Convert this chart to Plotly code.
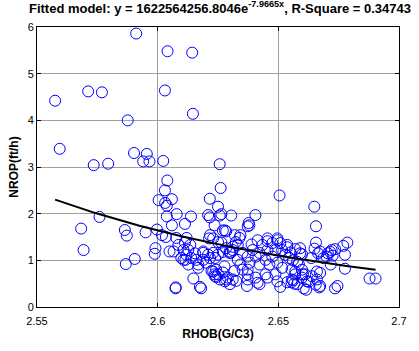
import numpy as np
import plotly.graph_objects as go

# Observed data (RHOB, NROP)
rhob = [
    2.5575, 2.5594, 2.5712, 2.5769, 2.5876, 2.5911, 2.6041, 2.6143, 2.6030, 2.6146,
    2.5902, 2.5955, 2.5940, 2.5966, 2.6023, 2.5735, 2.5795, 2.6257,
    2.6040, 2.6030, 2.6004, 2.6059, 2.6031, 2.6038, 2.6216, 2.6250, 2.6079, 2.6038,
    2.6138, 2.6209, 2.6216, 2.6257, 2.6264, 2.6305, 2.6059, 2.6113, 2.6236, 2.6270, 2.6284,
    2.5759, 2.5683, 2.5864, 2.5872, 2.5950, 2.5997, 2.6018, 2.6034, 2.6077,
    2.5693, 2.5991, 2.5988, 2.6049, 2.5905, 2.5868, 2.6074,
    2.6261, 2.6505, 2.6405,
    2.6377, 2.6373, 2.6380, 2.6343, 2.6339, 2.6120, 2.6213, 2.6113, 2.6264, 2.6389,
    2.6455, 2.6496, 2.6066, 2.6155, 2.6189, 2.6209, 2.6250, 2.6298, 2.6311, 2.6107,
    2.6168, 2.6223, 2.6236, 2.6243, 2.6284, 2.6325, 2.6277, 2.6148, 2.6075, 2.6175,
    2.6180, 2.6343, 2.6373, 2.6370, 2.6414,
    2.6086, 2.6107, 2.6127, 2.6135, 2.6119, 2.6139, 2.6115, 2.6098, 2.6127, 2.6160, 2.6168,
    2.6189, 2.6217, 2.6201, 2.6238, 2.6230, 2.6189,
    2.6270, 2.6283, 2.6303,
    2.6242, 2.6250, 2.6230, 2.6258, 2.6238, 2.6270, 2.6291, 2.6299, 2.6311, 2.6279,
    2.6217, 2.6230, 2.6250, 2.6279, 2.6320, 2.6324, 2.6311,
    2.6414, 2.6434, 2.6455, 2.6475, 2.6496, 2.6508, 2.6488, 2.6455, 2.6422, 2.6516,
    2.6529, 2.6475, 2.6447, 2.6537, 2.6406, 2.6393, 2.6373, 2.6352, 2.6332, 2.6381,
    2.6422, 2.6463, 2.6496, 2.6516, 2.6488, 2.6447, 2.6406, 2.6373, 2.6352,
    2.6318, 2.6373, 2.6422, 2.6455, 2.6496, 2.6508, 2.6537, 2.6557, 2.6578, 2.6598,
    2.6619, 2.6570, 2.6598, 2.6611, 2.6639, 2.6660,
    2.6649, 2.6656, 2.6656, 2.6786, 2.6769, 2.6721, 2.6715, 2.6776, 2.6673, 2.6550,
    2.6598, 2.6636, 2.6687, 2.6700, 2.6717, 2.6776, 2.6578, 2.6585, 2.6602, 2.6561,
    2.6566, 2.6555, 2.6626, 2.6655, 2.6670, 2.6673, 2.6605, 2.6615, 2.6735, 2.6745,
    2.6878, 2.6903,
    2.6537, 2.6545, 2.6560, 2.6570, 2.6590, 2.6650, 2.6665, 2.6705, 2.6725, 2.6735,
    2.6590, 2.6555, 2.6570, 2.6660, 2.6673, 2.6332, 2.6299,
]
nrop = [
    4.42, 3.39, 4.62, 4.60, 4.00, 5.86, 5.48, 5.45, 4.64, 4.14,
    3.30, 3.28, 3.12, 3.12, 3.13, 3.04, 3.07, 3.06,
    2.71, 2.50, 2.29, 2.31, 2.23, 2.17, 2.32, 2.15, 1.99, 1.94,
    1.94, 1.97, 1.92, 1.96, 1.99, 1.96, 1.75, 1.78, 1.75, 1.64, 1.62,
    1.93, 1.68, 1.65, 1.53, 1.60, 1.66, 1.54, 1.50, 1.48,
    1.22, 1.26, 1.14, 1.19, 1.03, 0.92, 0.40,
    2.55, 2.39, 1.97,
    1.80, 1.73, 1.75, 1.54, 1.48, 1.48, 1.47, 1.38, 1.38, 1.34,
    1.41, 1.43, 1.19, 1.15, 1.19, 1.12, 1.12, 1.19, 1.22, 1.01,
    0.84, 0.77, 0.70, 0.64, 0.59, 0.56, 0.87, 0.61, 0.42, 0.43,
    0.40, 0.91, 0.80, 0.45, 0.52,
    1.33, 1.22, 1.22, 1.33, 1.12, 1.05, 1.01, 1.05, 0.91, 1.01, 0.91,
    1.16, 1.05, 0.95, 1.05, 1.16, 1.01,
    1.18, 1.26, 1.16,
    0.80, 0.70, 0.76, 0.59, 0.66, 0.74, 0.63, 0.49, 0.59, 0.55,
    1.54, 1.47, 1.39, 1.64, 1.54, 1.39, 1.29,
    1.43, 1.33, 1.47, 1.37, 1.47, 1.37, 1.22, 1.22, 1.16, 1.22,
    1.12, 1.08, 1.01, 1.33, 1.08, 1.22, 1.08, 1.16, 1.01, 0.95,
    0.91, 0.91, 0.95, 0.84, 0.70, 0.70, 0.63, 0.70, 0.80,
    0.77, 0.59, 0.49, 0.63, 0.55, 0.43, 0.53, 0.59, 0.49, 0.63,
    0.55, 0.76, 0.80, 0.70, 0.66, 0.76,
    2.15, 1.73, 1.38, 1.38, 1.31, 1.22, 1.18, 1.12, 1.19, 1.17,
    1.13, 1.05, 1.05, 1.08, 0.91, 0.82, 0.97, 0.92, 0.70, 0.57,
    0.50, 0.53, 0.54, 0.48, 0.42, 0.73, 0.40, 0.37, 0.40, 0.45,
    0.61, 0.61,
    1.28, 1.05, 1.00, 1.24, 1.26, 1.25, 1.15, 1.15, 1.10, 1.24,
    1.15, 0.80, 0.70, 0.59, 0.45, 1.33, 1.16,
]

# Fitted model parameters
fit_a = 1622564256.8046
fit_b = -7.9665
r_square = 0.34743

x_ticks = [2.55, 2.6, 2.65, 2.7]
x_tick_labels = ["2.55", "2.6", "2.65", "2.7"]
y_ticks = [0, 1, 2, 3, 4, 5, 6]

xf = np.linspace(min(rhob), max(rhob), 100)
yf = fit_a * np.exp(fit_b * xf)

fig = go.Figure()
fig.add_trace(go.Scatter(
    x=rhob, y=nrop, mode="markers",
    marker=dict(symbol="circle-open", size=11, color="#0000ff", line=dict(width=1, color="#0000ff")),
    showlegend=False,
))
fig.add_trace(go.Scatter(
    x=xf, y=yf, mode="lines", line=dict(color="black", width=2), showlegend=False,
))

font_family = "Liberation Sans, Arial, sans-serif"
fig.update_layout(
    width=419, height=351,
    margin=dict(l=37, r=16, t=27, b=38),
    paper_bgcolor="white", plot_bgcolor="white",
    font=dict(family=font_family, size=11, color="black"),
    title=dict(
        text="<b>Fitted model: y = 1622564256.8046e<sup>-7.9665x</sup>, R-Square = 0.34743</b>",
        x=0.525, xanchor="center", y=0.99, yanchor="top",
        font=dict(size=13, family=font_family, color="black"),
    ),
    xaxis=dict(
        range=[2.55, 2.7], tickvals=x_ticks, ticktext=x_tick_labels,
        showgrid=True, gridcolor="#a0a0a0", gridwidth=1,
        showline=True, linecolor="black", linewidth=1, mirror="ticks",
        ticks="inside", ticklen=4, tickcolor="black", zeroline=False,
        ticklabelstandoff=4,
        title=dict(text="<b>RHOB(G/C3)</b>", font=dict(size=12), standoff=3),
        tickfont=dict(size=11),
    ),
    yaxis=dict(
        range=[0, 6], tickvals=y_ticks,
        showgrid=True, gridcolor="#a0a0a0", gridwidth=1,
        showline=True, linecolor="black", linewidth=1, mirror="ticks",
        ticks="inside", ticklen=4, tickcolor="black", zeroline=False,
        title=dict(text="<b>NROP(ft/h)</b>", font=dict(size=12), standoff=6),
        tickfont=dict(size=11),
    ),
)

fig.write_html("out.html")
